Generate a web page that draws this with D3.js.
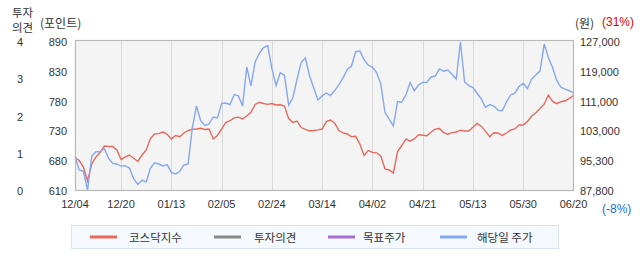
<!DOCTYPE html>
<html><head><meta charset="utf-8">
<script src="https://cdn.jsdelivr.net/npm/d3@7"></script>
<style>body{margin:0;background:#fff}svg{display:block}</style>
</head><body><svg id="c" width="642" height="268"></svg>
<script>
const dates = ["12/04","12/20","01/13","02/05","02/24","03/14","04/02","04/21","05/13","05/30","06/20"];
const dateIdx = [0,11,23,35,47,59,71,83,95,107,119];
const kosdaq = [672.2,666.9,654.8,628.7,660.4,673.5,681.9,694.0,693.1,693.1,
686.5,668.8,673.5,677.2,671.0,665.1,677.2,686.5,708.0,716.4,
717.0,720.1,715.8,707.1,713.6,711.2,718.3,722.6,725.2,725.7,
727.0,724.8,725.7,707.1,713.6,725.7,737.9,741.2,746.6,747.8,
744.4,750.0,756.9,771.5,775.6,773.3,771.8,773.3,770.5,770.9,
768.7,745.3,737.9,740.7,728.5,725.0,722.0,722.9,724.2,725.7,
739.7,742.5,736.4,722.9,718.6,716.4,711.4,712.1,697.7,676.3,
685.6,682.2,681.3,675.3,651.1,649.2,643.6,683.7,694.9,707.1,
703.0,707.1,714.9,714.0,713.2,720.1,725.4,726.7,719.0,716.0,
719.0,720.1,723.5,722.0,722.0,728.9,736.2,731.0,721.4,711.4,
718.6,718.3,713.8,718.3,723.9,725.9,733.2,733.2,739.7,749.6,
756.2,763.8,772.0,788.8,777.1,773.0,776.7,778.4,782.7,788.3];
const price = [96950,93300,92950,88050,96950,98050,98050,98900,96400,95000,
94800,94300,94400,93800,91050,89500,90650,90150,93800,95150,
94850,94350,94700,92650,92250,92900,94600,94850,104250,110000,
106200,104950,105300,107150,106900,110700,110800,110400,113000,112650,
110000,120200,115250,121500,123750,125300,125800,119800,115350,118750,
118100,110250,112100,116950,121400,122550,117850,114700,111600,112650,
113400,112750,114050,115600,117350,119550,120450,124200,124400,122150,
120700,120150,118750,115750,108300,106600,104800,111200,111000,112900,
116150,114000,115500,116200,116200,117600,117850,119700,119100,119400,
118300,117050,126750,116300,115350,114850,113350,111850,109650,110400,
110000,108900,108800,111050,112900,113350,115100,115950,114550,117050,
118100,119150,126200,122700,120050,116700,114900,114400,114000,113450];
const opinionTicks = ["4","3","2","1","0"];
const pointTicks = ["890","830","780","730","680","610"];
const priceTicks = ["127,000","119,000","111,000","103,000","95,300","87,800"];
const legendItems = ["코스닥지수","투자의견","목표주가","해당일 주가"];
const legendColors = ["#e8695c","#888888","#a66fd0","#86a8ee"];

const svg = d3.select("#c");
const L=75, R=574, T=40, B=191;
const x = d3.scaleLinear().domain([0, kosdaq.length-1]).range([L, R-0.5]);
const yK = d3.scaleLinear().domain([610, 890]).range([B, T+1]);
const yP = d3.scaleLinear().domain([87800, 127000]).range([B, T+1]);
const yPointIdx = d3.scaleLinear().domain([0, pointTicks.length-1]).range([T+2, B]);
const yOpIdx = d3.scaleLinear().domain([0, opinionTicks.length-1]).range([T+2, B]);
const numFont = "'Liberation Sans', Arial, sans-serif";
const krFont = "'Noto Sans CJK KR', 'Noto Sans', sans-serif";

svg.append("rect").attr("x",L).attr("y",T).attr("width",R-L).attr("height",B-T).attr("fill","#f4f4f4");
svg.append("g").selectAll("line").data(dateIdx.slice(1,-1)).join("line")
  .attr("x1",d=>Math.round(x(d))+0.5).attr("x2",d=>Math.round(x(d))+0.5)
  .attr("y1",T).attr("y2",B).attr("stroke","#d9d9d9").attr("stroke-width",1);

const lineK = d3.line().x((d,i)=>x(i)).y(d=>yK(d));
const lineP = d3.line().x((d,i)=>x(i)).y(d=>yP(d));
svg.append("path").attr("d",lineK(kosdaq)).attr("fill","none").attr("stroke",legendColors[0]).attr("stroke-width",1.4);
svg.append("path").attr("d",lineP(price)).attr("fill","none").attr("stroke",legendColors[3]).attr("stroke-width",1.4);

svg.append("rect").attr("x",L+0.5).attr("y",T+0.5).attr("width",R-L-1).attr("height",B-T-1)
  .attr("fill","none").attr("stroke","#b9b9b9").attr("stroke-width",1.2);

// x labels
svg.append("g").selectAll("text").data(dates).join("text")
  .attr("x",(d,i)=>x(dateIdx[i])).attr("y",204).attr("text-anchor","middle")
  .attr("dominant-baseline","central").attr("font-family",numFont).attr("font-size",11)
  .attr("fill","#333").text(d=>d);

// opinion axis
svg.append("g").selectAll("text").data(opinionTicks).join("text")
  .attr("x",20).attr("y",(d,i)=>yOpIdx(i)).attr("text-anchor","middle")
  .attr("dominant-baseline","central").attr("font-family",numFont).attr("font-size",11)
  .attr("fill","#333").text(d=>d);
// point axis
svg.append("g").selectAll("text").data(pointTicks).join("text")
  .attr("x",67).attr("y",(d,i)=>yPointIdx(i)).attr("text-anchor","end")
  .attr("dominant-baseline","central").attr("font-family",numFont).attr("font-size",11)
  .attr("fill","#333").text(d=>d);
// price axis
svg.append("g").selectAll("text").data(priceTicks).join("text")
  .attr("x",580).attr("y",(d,i)=>yPointIdx(i)).attr("text-anchor","start")
  .attr("dominant-baseline","central").attr("font-family",numFont).attr("font-size",11)
  .attr("fill","#333").text(d=>d);

function t(xp,yp,s,opts={}){
  return svg.append("text").attr("x",xp).attr("y",yp).attr("dominant-baseline","central")
    .attr("font-family",opts.font||krFont).attr("font-size",opts.size||12)
    .attr("fill",opts.fill||"#333").attr("text-anchor",opts.anchor||"start").text(s);
}
t(12,12,"투자",{size:11.5});
t(12,27,"의견",{size:11.5});
t(40,22,"(포인트)",{size:12});
t(575,22,"(원)",{size:12});
t(602,22,"(31%)",{size:12,fill:"#e00000",font:numFont});
t(602,209,"(-8%)",{size:12,fill:"#1a6fdc",font:numFont});

// legend
svg.append("rect").attr("x",71.5).attr("y",225.5).attr("width",487).attr("height",23)
  .attr("fill","#f5f9fe").attr("stroke","#d9e3ec");
const legX = [90,214,328,440];
const legTX = [129,254,363,477];
const lg = svg.append("g").selectAll("g").data(legendItems).join("g");
lg.append("line").attr("x1",(d,i)=>legX[i]).attr("x2",(d,i)=>legX[i]+27)
  .attr("y1",237).attr("y2",237).attr("stroke",(d,i)=>legendColors[i]).attr("stroke-width",3);
lg.append("text").attr("x",(d,i)=>legTX[i]).attr("y",237).attr("dominant-baseline","central")
  .attr("font-family",krFont).attr("font-size",11.5).attr("fill","#333").text(d=>d);
</script></body></html>
